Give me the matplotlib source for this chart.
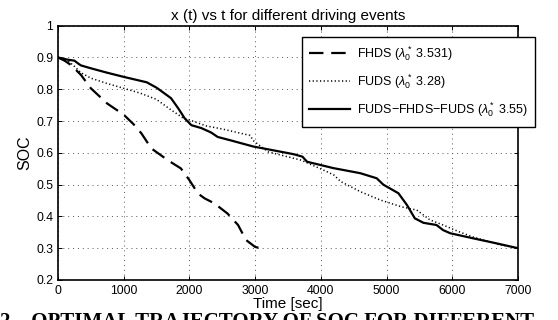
import numpy as np
import matplotlib
matplotlib.use("Agg")
import matplotlib.pyplot as plt

plt.rcParams['font.family'] = ['Liberation Sans', 'DejaVu Sans']
plt.rcParams['mathtext.fontset'] = 'custom'
plt.rcParams['mathtext.rm'] = 'Liberation Sans'
plt.rcParams['mathtext.it'] = 'Liberation Sans:italic'

# FHDS (dashed)
t_fhds = [0, 100, 200, 350, 500, 750, 1000, 1150, 1270, 1420, 1670, 1870, 2000,
          2130, 2230, 2380, 2580, 2740, 2860, 3000, 3080]
soc_fhds = [0.9, 0.89, 0.876, 0.845, 0.803, 0.755, 0.72, 0.69, 0.661, 0.614, 0.577,
            0.551, 0.514, 0.472, 0.457, 0.441, 0.409, 0.373, 0.326, 0.304, 0.3]

# FUDS (dotted)
t_fuds = [0, 150, 250, 350, 500, 750, 1000, 1250, 1500, 1700, 1900, 2050, 2250, 2500,
          2750, 2920, 2980, 3200, 3700, 4100, 4200, 4300, 4600, 4900, 5230, 5460,
          5660, 5860, 6100, 6320, 6700, 7000]
soc_fuds = [0.9, 0.89, 0.872, 0.852, 0.835, 0.818, 0.803, 0.788, 0.768, 0.738, 0.71,
            0.70, 0.685, 0.675, 0.663, 0.655, 0.637, 0.603, 0.577, 0.54, 0.53, 0.51,
            0.478, 0.452, 0.43, 0.42, 0.389, 0.373, 0.352, 0.335, 0.312, 0.3]

# FUDS-FHDS-FUDS (solid)
t_mix = [0, 150, 250, 300, 350, 500, 750, 1000, 1350, 1500, 1600, 1720, 1830, 1930,
         2030, 2180, 2330, 2430, 2650, 2970, 3530, 3600, 3720, 3790, 4190, 4600,
         4850, 4950, 5180, 5310, 5430, 5560, 5760, 5860, 5970, 6320, 6680, 7000]
soc_mix = [0.9, 0.893, 0.89, 0.882, 0.875, 0.866, 0.852, 0.839, 0.822, 0.805, 0.79,
           0.772, 0.74, 0.708, 0.687, 0.678, 0.664, 0.65, 0.638, 0.62, 0.598, 0.595,
           0.588, 0.572, 0.552, 0.536, 0.52, 0.5, 0.473, 0.436, 0.394, 0.38, 0.373,
           0.357, 0.347, 0.331, 0.315, 0.3]

labels = [r'FHDS ($\lambda_0^*$ 3.531)', r'FUDS ($\lambda_0^*$ 3.28)',
          r'FUDS$-$FHDS$-$FUDS ($\lambda_0^*$ 3.55)']

fig = plt.figure(figsize=(5.58, 3.2), dpi=100)
ax = fig.add_axes([58/558, 1-280/320, 460/558, (280-25.7)/320])

ax.plot(t_fhds, soc_fhds, color='black', ls=(0, (6.5, 3.5)), lw=1.6, label=labels[0])
ax.plot(t_fuds, soc_fuds, color='black', ls=(0, (0.8, 1.6)), lw=1.1, label=labels[1])
ax.plot(t_mix, soc_mix, color='black', ls='-', lw=1.6, label=labels[2])

ax.set_xlim(0, 7000)
ax.set_ylim(0.2, 1.0)
ax.set_xticks(np.arange(0, 7001, 1000))
ax.set_yticks(np.arange(0.2, 1.01, 0.1))
ax.set_yticklabels(['0.2', '0.3', '0.4', '0.5', '0.6', '0.7', '0.8', '0.9', '1'])
ax.grid(True, color='#555555', ls=(0, (1, 4)), lw=0.7)
ax.tick_params(direction='in', top=True, right=True, labelsize=8.8, length=3, width=0.7)
for s in ax.spines.values():
    s.set_linewidth(1.2)

ax.set_title('x (t) vs t for different driving events', fontsize=11, pad=4)
ax.set_xlabel('Time [sec]', fontsize=11, labelpad=0)
ax.set_ylabel('SOC', fontsize=11.5, labelpad=3)

leg = ax.legend(loc='upper left', bbox_to_anchor=(301.7/558, 1-36.7/320),
                bbox_transform=fig.transFigure, fontsize=9, handlelength=3.3,
                labelspacing=0.75, borderpad=0.6, borderaxespad=0, fancybox=False,
                framealpha=1, edgecolor='black', handletextpad=0.5)
leg.get_frame().set_linewidth(1.0)

fig.text(0.0, 1-312/320, '2.   OPTIMAL TRAJECTORY OF SOC FOR DIFFERENT',
         fontsize=15, fontweight='bold', family='Liberation Serif', va='top')

fig.savefig('out.png', dpi=100)
